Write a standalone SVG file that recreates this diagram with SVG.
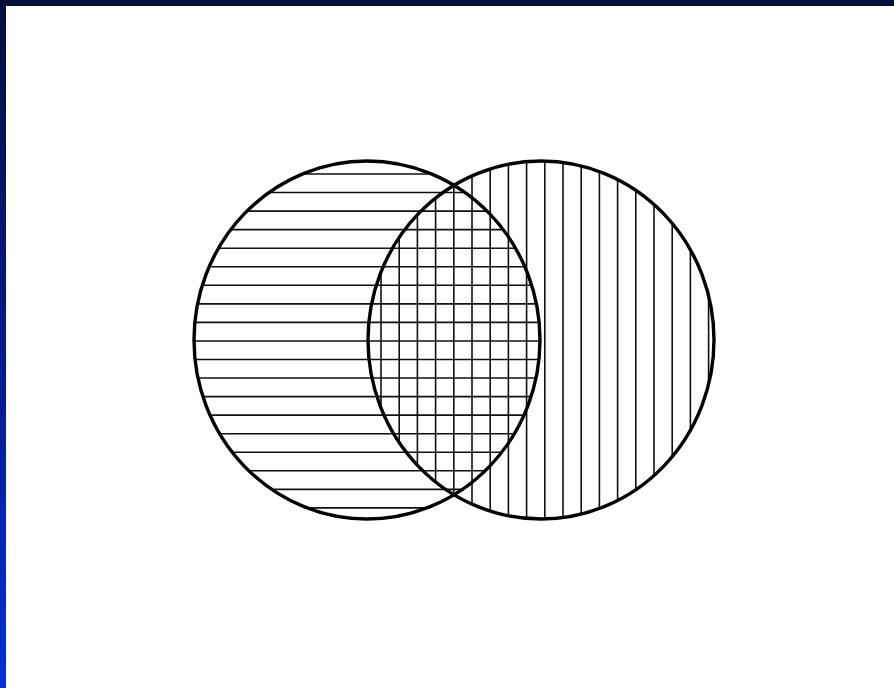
<svg xmlns="http://www.w3.org/2000/svg" width="894" height="688" viewBox="0 0 894 688">
  <defs>
    <linearGradient id="bg" x1="0" y1="0" x2="0" y2="1">
      <stop offset="0" stop-color="#00103a"/>
      <stop offset="0.5" stop-color="#001a8a"/>
      <stop offset="1" stop-color="#0030d8"/>
    </linearGradient>
    <clipPath id="clipA"><ellipse cx="367" cy="340" rx="173" ry="179"/></clipPath>
    <clipPath id="clipB"><ellipse cx="541" cy="340" rx="173" ry="179"/></clipPath>
    <style>
      .hatch { stroke: #111; stroke-width: 1.6; fill: none; }
      .circle { stroke: #000; stroke-width: 3.4; fill: none; }
    </style>
  </defs>
  <rect x="0" y="0" width="894" height="688" fill="url(#bg)"/>
  <rect x="6" y="6" width="888" height="682" fill="#ffffff"/>

  <g id="setA-hatch" clip-path="url(#clipA)" class="hatch">
    <line x1="180" y1="174" x2="560" y2="174"/>
    <line x1="180" y1="192.55" x2="560" y2="192.55"/>
    <line x1="180" y1="211.1" x2="560" y2="211.1"/>
    <line x1="180" y1="229.65" x2="560" y2="229.65"/>
    <line x1="180" y1="248.2" x2="560" y2="248.2"/>
    <line x1="180" y1="266.75" x2="560" y2="266.75"/>
    <line x1="180" y1="285.3" x2="560" y2="285.3"/>
    <line x1="180" y1="303.85" x2="560" y2="303.85"/>
    <line x1="180" y1="322.4" x2="560" y2="322.4"/>
    <line x1="180" y1="340.95" x2="560" y2="340.95"/>
    <line x1="180" y1="359.5" x2="560" y2="359.5"/>
    <line x1="180" y1="378.05" x2="560" y2="378.05"/>
    <line x1="180" y1="396.6" x2="560" y2="396.6"/>
    <line x1="180" y1="415.15" x2="560" y2="415.15"/>
    <line x1="180" y1="433.7" x2="560" y2="433.7"/>
    <line x1="180" y1="452.25" x2="560" y2="452.25"/>
    <line x1="180" y1="470.8" x2="560" y2="470.8"/>
    <line x1="180" y1="489.35" x2="560" y2="489.35"/>
    <line x1="180" y1="507.9" x2="560" y2="507.9"/>
  </g>

  <g id="setB-hatch" clip-path="url(#clipB)" class="hatch">
    <line x1="381" y1="150" x2="381" y2="530"/>
    <line x1="399.2" y1="150" x2="399.2" y2="530"/>
    <line x1="417.4" y1="150" x2="417.4" y2="530"/>
    <line x1="435.6" y1="150" x2="435.6" y2="530"/>
    <line x1="453.8" y1="150" x2="453.8" y2="530"/>
    <line x1="472" y1="150" x2="472" y2="530"/>
    <line x1="490.2" y1="150" x2="490.2" y2="530"/>
    <line x1="508.4" y1="150" x2="508.4" y2="530"/>
    <line x1="526.6" y1="150" x2="526.6" y2="530"/>
    <line x1="544.8" y1="150" x2="544.8" y2="530"/>
    <line x1="563" y1="150" x2="563" y2="530"/>
    <line x1="581.2" y1="150" x2="581.2" y2="530"/>
    <line x1="599.4" y1="150" x2="599.4" y2="530"/>
    <line x1="617.6" y1="150" x2="617.6" y2="530"/>
    <line x1="635.8" y1="150" x2="635.8" y2="530"/>
    <line x1="654" y1="150" x2="654" y2="530"/>
    <line x1="672.2" y1="150" x2="672.2" y2="530"/>
    <line x1="690.4" y1="150" x2="690.4" y2="530"/>
    <line x1="708.6" y1="150" x2="708.6" y2="530"/>
  </g>

  <g id="setA"><ellipse class="circle" cx="367" cy="340" rx="173" ry="179"/></g>
  <g id="setB"><ellipse class="circle" cx="541" cy="340" rx="173" ry="179"/></g>
</svg>
